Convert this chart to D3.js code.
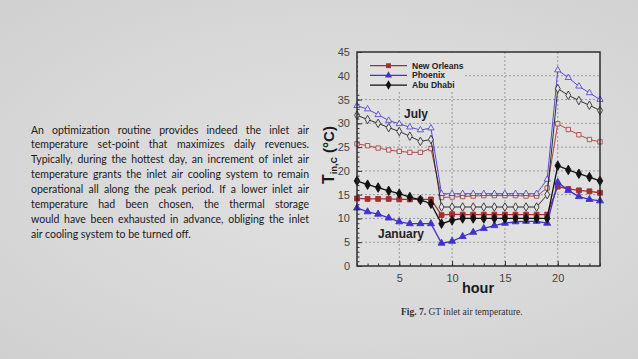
<!DOCTYPE html>
<html>
<head>
<meta charset="utf-8">
<script src="https://cdn.jsdelivr.net/npm/d3@7"></script>
<style>
  html, body { margin: 0; padding: 0; }
  body { width: 638px; height: 359px; overflow: hidden;
         background: radial-gradient(ellipse at 55% 50%, #e1e1e1 0%, #d8d8d8 60%, #d0d0d0 100%); }
  svg { display: block; }
</style>
</head>
<body>
<script>
// chart values
let hours = [1, 2, 3, 4, 5, 6, 7, 8, 9, 10, 11, 12, 13, 14, 15, 16, 17, 18, 19, 20, 21, 22, 23, 24]
let cities = ["New Orleans", "Phoenix", "Abu Dhabi"]

let julyNewOrleans = [25.7, 25.3, 24.8, 24.4, 24.1, 23.9, 23.9, 24.7, 14.4, 14.5, 14.6, 14.7, 14.8, 14.8, 14.8, 14.8, 14.7, 14.7, 16.4, 29.9, 28.7, 27.6, 26.6, 26.1]
let julyPhoenix    = [33.7, 33.0, 31.8, 30.6, 29.9, 29.2, 28.6, 29.0, 15.2, 15.2, 15.2, 15.2, 15.2, 15.2, 15.2, 15.2, 15.2, 15.2, 18.2, 41.2, 39.6, 37.8, 36.4, 35.0]
let julyAbuDhabi   = [31.7, 30.8, 30.0, 29.1, 28.3, 27.3, 26.2, 26.6, 12.4, 12.4, 12.4, 12.4, 12.4, 12.4, 12.4, 12.4, 12.4, 12.4, 15.0, 37.3, 35.9, 34.8, 33.8, 32.7]

let janNewOrleans  = [14.2, 14.1, 14.1, 14.1, 14.0, 14.0, 14.0, 14.0, 10.7, 10.9, 10.8, 10.8, 10.8, 10.8, 10.8, 10.8, 10.8, 10.8, 10.8, 16.7, 16.2, 15.9, 15.7, 15.4]
let janPhoenix     = [12.2, 11.4, 10.9, 10.1, 9.3, 8.9, 8.9, 8.9, 4.8, 5.2, 6.2, 7.1, 7.9, 8.5, 9.0, 9.3, 9.4, 9.4, 9.0, 17.6, 15.9, 14.6, 14.0, 13.7]
let janAbuDhabi    = [17.9, 17.1, 16.5, 15.8, 15.2, 14.5, 13.9, 13.1, 8.9, 9.6, 10.0, 10.0, 10.0, 10.0, 10.0, 10.0, 10.0, 10.0, 10.0, 21.1, 20.2, 19.4, 18.7, 17.9]

let xTicks = [5, 10, 15, 20]
let yTicks = [0, 5, 10, 15, 20, 25, 30, 35, 40, 45]

let paragraph = [
    "An optimization routine provides indeed the inlet air",
    "temperature set-point that maximizes daily revenues.",
    "Typically, during the hottest day, an increment of inlet air",
    "temperature grants the inlet air cooling system to remain",
    "operational all along the peak period. If a lower inlet air",
    "temperature had been chosen, the thermal storage",
    "would have been exhausted in advance, obliging the inlet",
    "air cooling system to be turned off."
]

let width = 638
let height = 359

let colors = { "New Orleans": "#a3302f", "Phoenix": "#4232cc", "Abu Dhabi": "#111111" }
let symbols = { "New Orleans": d3.symbolSquare, "Phoenix": d3.symbolTriangle, "Abu Dhabi": d3.symbolDiamond }
let sizes = { "New Orleans": 19, "Phoenix": 17, "Abu Dhabi": 21 }

let svg = d3.select("body")
            .append("svg")
            .attr("width", width)
            .attr("height", height)

// ---- text block on the left, justified line by line ----
let para = svg.append("g")
              .attr("font-family", "Lato, 'Open Sans', sans-serif")
              .attr("font-size", "10.5px")
              .attr("fill", "#1a1a1a")

let paraLeft = 31
let paraRight = 309
paragraph.forEach((line, i) => {
    let t = para.append("text")
                .attr("x", paraLeft)
                .attr("y", 133.5 + i * 14.9)
                .text(line)
    if (i < paragraph.length - 1) {
        let natural = t.node().getComputedTextLength()
        let spaces = line.split(" ").length - 1
        t.attr("word-spacing", ((paraRight - paraLeft - natural) / spaces) + "px")
    }
})

// ---- chart ----
let x0 = 357, x1 = 600, y0 = 266, y1 = 52

let xScale = d3.scaleLinear().domain([1, 24]).range([x0, x1])
let yScale = d3.scaleLinear().domain([0, 45]).range([y0, y1])

let plot = svg.append("g")

plot.append("rect")
    .attr("x", x0).attr("y", y1)
    .attr("width", x1 - x0).attr("height", y0 - y1)
    .attr("fill", "#e0e0e0")

// dotted grid
plot.append("g")
    .selectAll("line")
    .data(yTicks.filter(d => d > 0 && d < 45))
    .join("line")
    .attr("x1", x0).attr("x2", x1)
    .attr("y1", d => yScale(d)).attr("y2", d => yScale(d))
    .attr("stroke", "#888")
    .attr("stroke-width", 0.8)
    .attr("stroke-dasharray", "2,2")

plot.append("g")
    .selectAll("line")
    .data(xTicks)
    .join("line")
    .attr("x1", d => xScale(d)).attr("x2", d => xScale(d))
    .attr("y1", y0).attr("y2", y1)
    .attr("stroke", "#888")
    .attr("stroke-width", 0.8)
    .attr("stroke-dasharray", "2,2")

// axes with inward ticks
let xAxis = d3.axisBottom(xScale).tickValues(xTicks).tickSize(-5).tickPadding(8)
let xMinor = d3.axisBottom(xScale).tickValues(hours).tickSize(-2.5).tickFormat("")
let yAxis = d3.axisLeft(yScale).tickValues(yTicks).tickSize(-5).tickPadding(7)
let yMinor = d3.axisLeft(yScale).ticks(45).tickSize(-2.5).tickFormat("")

let styleAxis = g => {
    g.select(".domain").remove()
    g.selectAll("line").attr("stroke", "#333")
    g.selectAll("text")
     .attr("font-family", "'Liberation Sans', Arial, sans-serif")
     .attr("font-size", "11px")
     .attr("fill", "#444")
}

svg.append("g").attr("transform", "translate(0," + y0 + ")").call(xMinor).call(styleAxis)
svg.append("g").attr("transform", "translate(0," + y0 + ")").call(xAxis).call(styleAxis)
svg.append("g").attr("transform", "translate(" + x0 + ",0)").call(yMinor).call(styleAxis)
svg.append("g").attr("transform", "translate(" + x0 + ",0)").call(yAxis).call(styleAxis)

// series
let seriesList = [
    { city: "New Orleans", month: "july", values: julyNewOrleans },
    { city: "Phoenix", month: "july", values: julyPhoenix },
    { city: "Abu Dhabi", month: "july", values: julyAbuDhabi },
    { city: "New Orleans", month: "jan", values: janNewOrleans },
    { city: "Phoenix", month: "jan", values: janPhoenix },
    { city: "Abu Dhabi", month: "jan", values: janAbuDhabi }
]

let line = d3.line()
             .x((d, i) => xScale(hours[i]))
             .y(d => yScale(d))

seriesList.forEach(s => {
    let c = colors[s.city]
    let july = s.month == "july"
    let g = plot.append("g").attr("opacity", july ? 0.85 : 1)
    g.append("path")
     .attr("d", line(s.values))
     .attr("fill", "none")
     .attr("stroke", c)
     .attr("stroke-width", july ? 1 : 1.3)
    g.selectAll("path.pt")
     .data(s.values)
     .join("path")
     .attr("class", "pt")
     .attr("d", d3.symbol().type(symbols[s.city]).size(sizes[s.city] * (july ? 1 : 1.25)))
     .attr("transform", (d, i) => "translate(" + xScale(hours[i]) + "," + yScale(d) + ")")
     .attr("fill", july ? "#e4e4e4" : c)
     .attr("stroke", c)
     .attr("stroke-width", 0.9)
})

// frame
plot.append("rect")
    .attr("x", x0).attr("y", y1)
    .attr("width", x1 - x0).attr("height", y0 - y1)
    .attr("fill", "none")
    .attr("stroke", "#222")
    .attr("stroke-width", 1.4)

// legend
let legend = svg.append("g")
legend.append("rect")
      .attr("x", x0 + 1).attr("y", y1 + 1)
      .attr("width", 107).attr("height", 39)
      .attr("fill", "#e0e0e0")

cities.forEach((city, i) => {
    let ly = 65.7 + i * 9.7
    legend.append("line")
          .attr("x1", 370).attr("x2", 407)
          .attr("y1", ly).attr("y2", ly)
          .attr("stroke", colors[city])
          .attr("stroke-width", 1.2)
    legend.append("path")
          .attr("d", d3.symbol().type(symbols[city]).size(sizes[city] * 1.25))
          .attr("transform", "translate(388.5," + ly + ")")
          .attr("fill", colors[city])
    legend.append("text")
          .attr("x", 412)
          .attr("y", ly + 3)
          .attr("font-family", "'Liberation Sans', Arial, sans-serif")
          .attr("font-size", "8.5px")
          .attr("font-weight", "bold")
          .attr("fill", "#222")
          .text(city)
})

// month labels
let monthLabel = (txt, x, y) => svg.append("text")
    .attr("x", x).attr("y", y)
    .attr("font-family", "'Liberation Sans', Arial, sans-serif")
    .attr("font-size", "12px")
    .attr("font-weight", "bold")
    .attr("fill", "#222")
    .text(txt)
monthLabel("July", 404, 118)
monthLabel("January", 378, 237.5)

// axis titles
svg.append("text")
   .attr("x", 478).attr("y", 293)
   .attr("text-anchor", "middle")
   .attr("font-family", "'Liberation Sans', Arial, sans-serif")
   .attr("font-size", "14.5px")
   .attr("font-weight", "bold")
   .attr("fill", "#1a1a1a")
   .text("hour")

let yTitle = svg.append("text")
   .attr("transform", "translate(334,155) rotate(-90)")
   .attr("text-anchor", "middle")
   .attr("font-family", "'Liberation Sans', Arial, sans-serif")
   .attr("font-weight", "bold")
   .attr("fill", "#1a1a1a")
yTitle.append("tspan").attr("font-size", "16px").text("T")
yTitle.append("tspan").attr("font-size", "9px").attr("dy", 3).text("in,C")
yTitle.append("tspan").attr("font-size", "15px").attr("dy", -3).text(" (°C)")

// caption
let cap = svg.append("text")
   .attr("x", 401).attr("y", 315)
   .attr("font-family", "'Liberation Serif', 'DejaVu Serif', serif")
   .attr("font-size", "9.5px")
   .attr("fill", "#333")
cap.append("tspan").attr("font-weight", "bold").text("Fig. 7.")
cap.append("tspan").text(" GT inlet air temperature.")
</script>
</body>
</html>
